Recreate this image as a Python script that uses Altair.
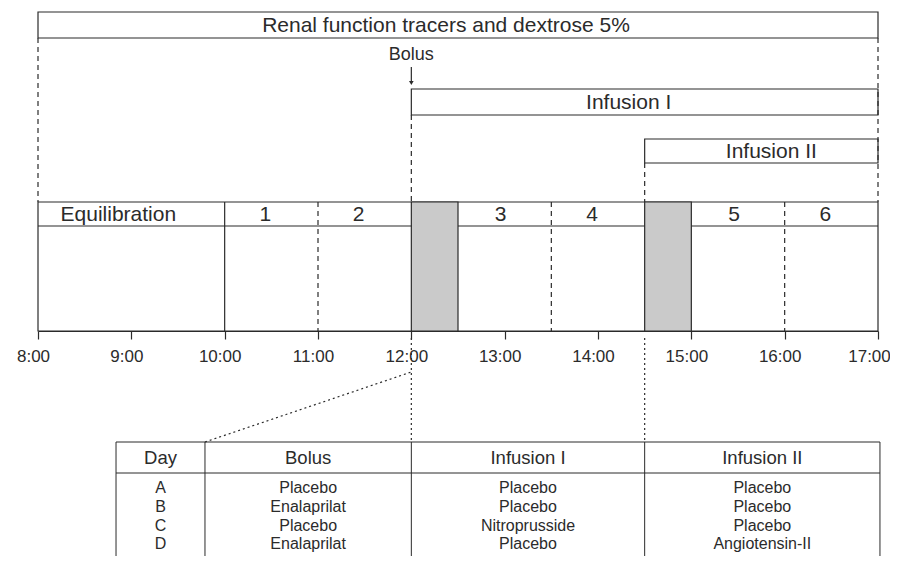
import altair as alt
import pandas as pd

# ---------------- data ----------------
tracer_label = "Renal function tracers and dextrose 5%"
tracer_start = 8.0
tracer_end = 17.0

bolus_label = "Bolus"
bolus_time = 12.0

infusion_labels = ["Infusion I", "Infusion II"]
infusion_start = [12.0, 14.5]
infusion_end = [17.0, 17.0]

phase_labels = ["Equilibration", "1", "2", "3", "4", "5", "6"]
phase_start = [8.0, 10.0, 11.0, 12.5, 13.5, 15.0, 16.0]
phase_end = [10.0, 11.0, 12.0, 13.5, 14.5, 16.0, 17.0]

washout_start = [12.0, 14.5]
washout_end = [12.5, 15.0]

equilibration_end = [10.0]
sample_splits = [11.0, 13.5, 16.0]

hour_ticks = [8, 9, 10, 11, 12, 13, 14, 15, 16, 17]

table_header = ["Day", "Bolus", "Infusion I", "Infusion II"]
table_day = ["A", "B", "C", "D"]
table_bolus = ["Placebo", "Enalaprilat", "Placebo", "Enalaprilat"]
table_inf1 = ["Placebo", "Placebo", "Nitroprusside", "Placebo"]
table_inf2 = ["Placebo", "Placebo", "Placebo", "Angiotensin-II"]

# ---------------- layout (page pixel rows, hour columns) ----------------
W, H = 882, 548
PX_PER_HOUR = 840 / 9
Y_TRACER = (12, 38)
Y_INFUSION = [(89, 115), (139, 163)]
BOX_NUDGE = [-12, -16, 10]           # label shift in px (tracer, inf I, inf II)
PHASE_NUDGE = [-13, -6, -6, -4, -6, -4, -6]
Y_BOLUS_TEXT = 55
Y_ARROW = (67, 81)
Y_ARROW_HEAD = 83
Y_PHASE = (202, 226)
Y_AXIS = 331
Y_DOT_TOP = 338
Y_DIAG_TOP = 372
Y_TABLE_TOP = 442
Y_TABLE_HEAD_LINE = 473
Y_TABLE_HEAD_TEXT = 458
Y_TABLE_ROW0 = 488
ROW_STEP = 18.8
Y_TABLE_BOTTOM = 600
TABLE_EDGES = [8.836, 9.789, 12.0, 14.5, 17.021]

FONT = "Liberation Sans"
INK = "#2b2b2b"
LINE_W = 1.2

xscale = alt.Scale(domain=[8, 17], range=[30, 870], nice=False, zero=False)
yscale = alt.Scale(domain=[8, 8 + H], range=[0, H], nice=False, zero=False)
xaxis = alt.Axis(
    values=hour_ticks, labelExpr="datum.value + ':00'", orient="bottom",
    offset=-(H - (Y_AXIS - 8)), tickSize=8, domainColor=INK, tickColor=INK,
    domainWidth=LINE_W, tickWidth=LINE_W, labelFont=FONT, labelFontSize=17,
    labelColor=INK, labelPadding=9,
    labelOffset=alt.condition("datum.value == 17", alt.value(-9), alt.value(-5)),
    title=None, grid=False, labelFlush=False, labelOverlap=False,
)


def X(f):
    return alt.X(f, type="quantitative", scale=xscale, axis=xaxis)


def X2(f):
    return alt.X2(f)


def Y(f):
    return alt.Y(f, type="quantitative", scale=yscale, axis=None)


def Y2(f):
    return alt.Y2(f)


def vrules(xs, y0, y1):
    return pd.DataFrame({"x": xs, "x2": xs, "y": [y0] * len(xs), "y2": [y1] * len(xs)})


def seg_layer(df, width=LINE_W, **mark):
    return alt.Chart(df).mark_rule(color=INK, strokeWidth=width, **mark).encode(
        x=X("x"), x2=X2("x2"), y=Y("y"), y2=Y2("y2")
    )


# main frame of the study day
frame_df = pd.DataFrame({"x": [tracer_start], "x2": [tracer_end], "y": [Y_PHASE[0]], "y2": [Y_AXIS]})
frame = alt.Chart(frame_df).mark_rect(fill="white", stroke=INK, strokeWidth=LINE_W).encode(
    x=X("x"), x2=X2("x2"), y=Y("y"), y2=Y2("y2")
)
phase_line = seg_layer(pd.DataFrame({"x": [tracer_start], "x2": [tracer_end], "y": [Y_PHASE[1]], "y2": [Y_PHASE[1]]}))

wash_df = pd.DataFrame({"x": washout_start, "x2": washout_end,
                        "y": [Y_PHASE[0]] * 2, "y2": [Y_AXIS] * 2})
washout = alt.Chart(wash_df).mark_rect(fill="#cacaca", stroke=INK, strokeWidth=LINE_W).encode(
    x=X("x"), x2=X2("x2"), y=Y("y"), y2=Y2("y2")
)

solid_v = seg_layer(vrules(equilibration_end, Y_PHASE[0], Y_AXIS))
dashed_v = seg_layer(vrules(sample_splits, Y_PHASE[0], Y_AXIS), strokeDash=[5, 4])

# infusion boxes
box_df = pd.DataFrame({
    "label": [tracer_label] + infusion_labels,
    "x": [tracer_start] + infusion_start,
    "x2": [tracer_end] + infusion_end,
    "y": [Y_TRACER[0]] + [b[0] for b in Y_INFUSION],
    "y2": [Y_TRACER[1]] + [b[1] for b in Y_INFUSION],
})
box_df["xc"] = (box_df["x"] + box_df["x2"]) / 2 + pd.Series(BOX_NUDGE) / PX_PER_HOUR
box_df["yc"] = (box_df["y"] + box_df["y2"]) / 2 + 1
boxes = alt.Chart(box_df).mark_rect(fill="white", stroke=INK, strokeWidth=LINE_W).encode(
    x=X("x"), x2=X2("x2"), y=Y("y"), y2=Y2("y2")
)
box_text = alt.Chart(box_df).mark_text(font=FONT, fontSize=21, color=INK, baseline="middle").encode(
    x=X("xc"), y=Y("yc"), text="label"
)

connectors = pd.DataFrame({
    "x": [tracer_start, tracer_end, bolus_time, infusion_start[1]],
    "x2": [tracer_start, tracer_end, bolus_time, infusion_start[1]],
    "y": [Y_TRACER[1], Y_TRACER[1], Y_INFUSION[0][1], Y_INFUSION[1][1]],
    "y2": [Y_PHASE[0]] * 4,
})
dashed_up = seg_layer(connectors, strokeDash=[5, 4])

# bolus arrow
arrow = seg_layer(vrules([bolus_time], Y_ARROW[0], Y_ARROW[1]))
head = alt.Chart(pd.DataFrame({"x": [bolus_time], "y": [Y_ARROW_HEAD]})).mark_point(
    shape="triangle-down", filled=True, size=22, color=INK, opacity=1
).encode(x=X("x"), y=Y("y"))
bolus_text = alt.Chart(pd.DataFrame({"x": [bolus_time], "y": [Y_BOLUS_TEXT], "t": [bolus_label]})).mark_text(
    font=FONT, fontSize=18, color=INK, baseline="middle"
).encode(x=X("x"), y=Y("y"), text="t")

# phase labels
ph_df = pd.DataFrame({"label": phase_labels, "s": phase_start, "e": phase_end})
ph_df["xc"] = (ph_df["s"] + ph_df["e"]) / 2 + pd.Series(PHASE_NUDGE) / PX_PER_HOUR
ph_df["yc"] = (Y_PHASE[0] + Y_PHASE[1]) / 2 + 1
phase_text = alt.Chart(ph_df).mark_text(font=FONT, fontSize=21, color=INK, baseline="middle").encode(
    x=X("xc"), y=Y("yc"), text="label"
)

# dotted links to the table
dots = pd.DataFrame({
    "x": [bolus_time, infusion_start[1], TABLE_EDGES[1]],
    "x2": [bolus_time, infusion_start[1], bolus_time],
    "y": [Y_DOT_TOP, Y_DOT_TOP, Y_TABLE_TOP],
    "y2": [Y_TABLE_TOP, Y_TABLE_TOP, Y_DIAG_TOP],
})
dotted = seg_layer(dots, strokeDash=[2, 3])

# table grid
tl = pd.DataFrame({
    "x": [TABLE_EDGES[0], TABLE_EDGES[0]] + TABLE_EDGES,
    "x2": [TABLE_EDGES[-1], TABLE_EDGES[-1]] + TABLE_EDGES,
    "y": [Y_TABLE_TOP, Y_TABLE_HEAD_LINE] + [Y_TABLE_TOP] * len(TABLE_EDGES),
    "y2": [Y_TABLE_TOP, Y_TABLE_HEAD_LINE] + [Y_TABLE_BOTTOM] * len(TABLE_EDGES),
})
table_lines = seg_layer(tl, width=1.0)

col_centers = [(TABLE_EDGES[i] + TABLE_EDGES[i + 1]) / 2 for i in range(4)]
head_df = pd.DataFrame({"t": table_header, "x": col_centers, "y": [Y_TABLE_HEAD_TEXT] * 4})
head_text = alt.Chart(head_df).mark_text(font=FONT, fontSize=18.5, color=INK, baseline="middle").encode(
    x=X("x"), y=Y("y"), text="t"
)

rows = []
for i in range(len(table_day)):
    for j, col in enumerate([table_day, table_bolus, table_inf1, table_inf2]):
        rows.append({"t": col[i], "x": col_centers[j], "y": Y_TABLE_ROW0 + i * ROW_STEP})
body_text = alt.Chart(pd.DataFrame(rows)).mark_text(font=FONT, fontSize=16, color=INK, baseline="middle").encode(
    x=X("x"), y=Y("y"), text="t"
)

chart = alt.layer(
    frame, phase_line, washout, solid_v, dashed_v, boxes, box_text, dashed_up,
    arrow, head, bolus_text, phase_text, dotted, table_lines, head_text, body_text,
).properties(
    width=W, height=H, padding=0, autosize=alt.AutoSizeParams(type="none"),
    background="white",
).configure_view(stroke=None)

chart.save("out.html", embed_options={"renderer": "svg", "actions": False})
